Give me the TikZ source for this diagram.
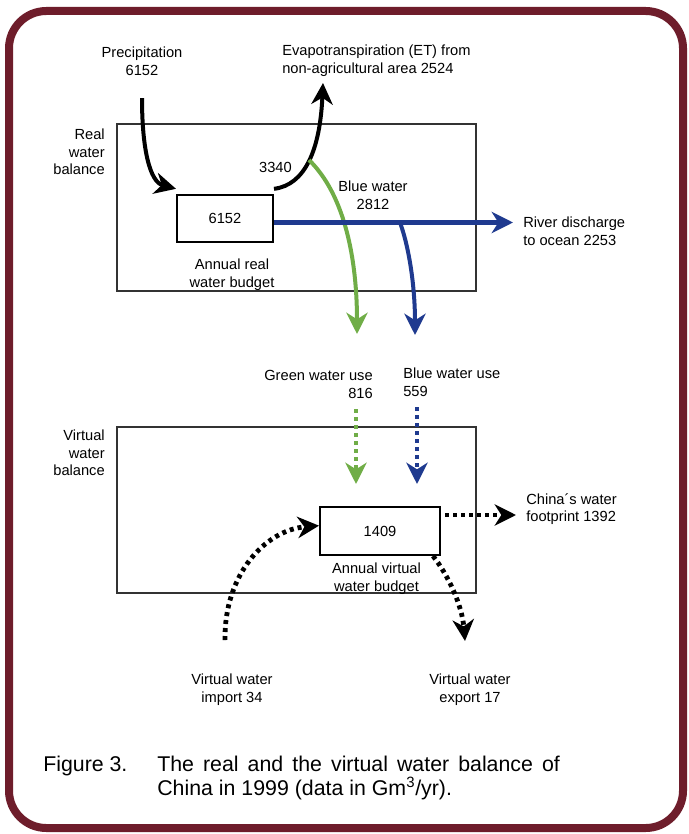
\documentclass[tikz,border=0pt]{standalone}
\usepackage{fontspec}
\setmainfont{Liberation Sans}
\usetikzlibrary{arrows.meta}

\definecolor{frameRed}{RGB}{110,29,43}
\definecolor{waterBlue}{RGB}{31,58,143}
\definecolor{waterGreen}{RGB}{112,173,71}

\begin{document}
\begin{tikzpicture}[x=0.75pt, y=-0.75pt,
    lbl/.style={font=\fontsize{11}{13.2}\selectfont, inner sep=0pt, align=center},
    budget/.style={draw, line width=1.5pt, inner sep=0pt, font=\fontsize{11}{13.2}\selectfont},
    balance/.style={draw=black!80, line width=0.8pt},
    arr/.style={-{Stealth[length=16pt, width=16pt, inset=5pt]}, line width=3pt},
    dotarr/.style={arr, line width=3.6pt, dash pattern=on 3pt off 3pt}
]
\useasboundingbox (0,0) rectangle (688,834);
\draw[frameRed, line width=6pt, rounded corners=28pt] (9,11) rectangle (683,828);

% real water balance
\draw[balance] (117,124) rectangle (476,291);
\node[lbl, align=right, anchor=east] (realtxt) at (105,152) {Real\\water\\balance};
\node[budget, minimum width=72pt, minimum height=35pt] (realbox) at (225,218.5) {6152};
\node[lbl] (realbud) at (232,275) {Annual real\\water budget};
\node[lbl] (precip) at (142,61) {Precipitation\\6152};
\node[lbl, align=left, anchor=west] (et) at (282,61) {Evapotranspiration (ET) from\\non-agricultural area 2524};
\node[lbl, anchor=east] (n3340) at (292,167) {3340};
\node[lbl] (bluew) at (373,195.5) {Blue water\\2812};
\node[lbl, align=left, anchor=west] (river) at (523,231) {River discharge\\to ocean 2253};

\coordinate (etTip) at (323,83);
\coordinate (split) at (309,160);
\coordinate (riverTip) at (513,222.5);
\coordinate (branch) at (400,222.5);
\coordinate (greenTip) at (357,334);
\coordinate (blueTip) at (415,335);

\draw[arr] ([yshift=-17pt]precip.south) .. controls (142,150) and (150,182) .. ([yshift=4pt]realbox.north west);
\draw[arr] ([yshift=4pt]realbox.north east) .. controls (305,185) and (320,150) .. (etTip);
\draw[arr, waterGreen] (split) .. controls (345,195) and (357,260) .. (greenTip);
\draw[arr, waterBlue, line width=3.6pt] ([yshift=-3pt]realbox.east) -- (riverTip);
\draw[arr, waterBlue] (branch) .. controls (410,250) and (415,290) .. (blueTip);

% virtual water balance
\draw[balance] (117,427) rectangle (476,593);
\node[lbl, align=right, anchor=east] (virttxt) at (105,453) {Virtual\\water\\balance};
\node[budget, minimum width=90pt, minimum height=36pt] (virtbox) at (380,531) {1409};
\node[lbl] (virtbud) at (376.5,578.5) {Annual virtual\\water budget};
\node[lbl, align=right, anchor=east] (greenuse) at (373,384.5) {Green water use\\816};
\node[lbl, align=left, anchor=west] (blueuse) at (403,382.5) {Blue water use\\559};
\node[lbl, align=left, anchor=west] (foot) at (526,509) {China´s water\\footprint 1392};
\node[lbl] (import) at (232,690) {Virtual water\\import 34};
\node[lbl] (export) at (470,690) {Virtual water\\export 17};

\coordinate (greenTop) at (356,409);
\coordinate (greenEnd) at (356,484);
\coordinate (blueTop) at (417,407);
\coordinate (blueEnd) at (417,484);
\coordinate (footTip) at (516,515);
\coordinate (importStart) at (225,640);
\coordinate (exportTip) at (465,641);

\draw[dotarr, waterGreen] (greenTop) -- (greenEnd);
\draw[dotarr, waterBlue] (blueTop) -- (blueEnd);
\draw[dotarr] ([xshift=3pt, yshift=12pt]virtbox.east) -- (footTip);
\draw[dotarr] (importStart) .. controls (224,575) and (265,530) .. ([yshift=4pt]virtbox.west);
\draw[dotarr] ([xshift=-6pt]virtbox.south east) .. controls (448,575) and (462,605) .. (exportTip);

% caption
\node[inner sep=0pt, anchor=north west, font=\fontsize{16}{18}\selectfont] (fignum) at (43,756) {Figure 3.};
\node[inner sep=0pt, anchor=north west, align=left, font=\fontsize{16}{18}\selectfont] (caption) at (157,756)
  {\makebox[302pt][s]{The real and the virtual water balance of}\\China in 1999 (data in Gm\textsuperscript{3}/yr).};
\end{tikzpicture}
\end{document}
